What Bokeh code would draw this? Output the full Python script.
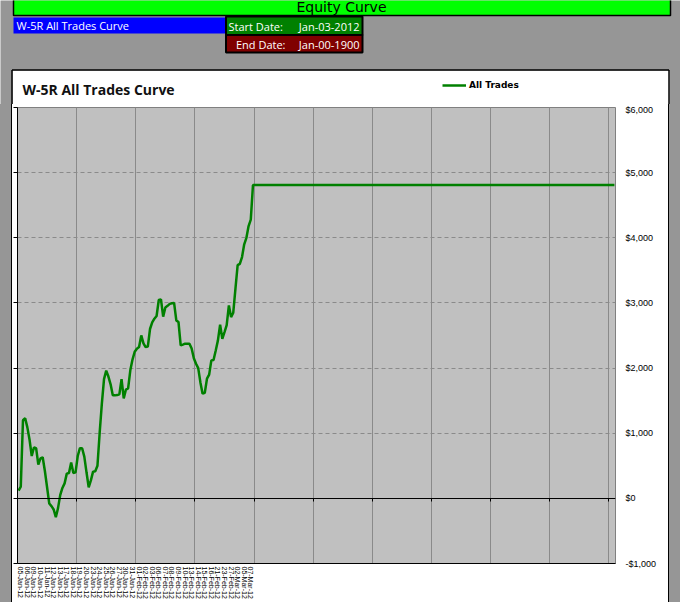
from bokeh.plotting import figure
from bokeh.models import (Range1d, LinearAxis, FixedTicker, Grid, Spacer, Legend, LegendItem)
from bokeh.layouts import column, row
from bokeh.core.properties import value
from bokeh.embed import file_html
from bokeh.resources import INLINE

# ---------------- data ----------------
equity = [120, 180, 1200, 1230, 1090, 900, 650, 780, 770, 520,
          615, 630, 420, 170, -80, -120, -170, -290, -150, 50,
          160, 230, 380, 390, 550, 390, 400, 650, 770, 770,
          640, 400, 170, 276, 410, 415, 500, 1000, 1450, 1830,
          1960, 1870, 1750, 1581, 1581, 1585, 1596, 1830, 1535, 1670,
          1688, 1965, 2130, 2250, 2298, 2323, 2502, 2380, 2323, 2330,
          2600, 2700, 2758, 2800, 3045, 3055, 2790, 2930, 2955, 2985,
          2995, 2998, 2732, 2707, 2349, 2360, 2374, 2374, 2374, 2300,
          2150, 2067, 2000, 1780, 1607, 1620, 1837, 1900, 2118, 2125,
          2270, 2425, 2666, 2450, 2553, 2660, 2962, 2783, 2850, 3220,
          3580, 3600, 3704, 3900, 4000, 4180, 4278, 4810]
n_categories = 273          # total rows in the category axis (flat after last trade)
label_every = 3             # Excel shows every 3rd category label
grid_every = 27             # vertical gridline interval (categories)

date_labels = ["05-Jan-12", "06-Jan-12", "09-Jan-12", "10-Jan-12", "11-Jan-12", "12-Jan-12",
               "13-Jan-12", "17-Jan-12", "18-Jan-12", "19-Jan-12", "20-Jan-12", "23-Jan-12",
               "24-Jan-12", "25-Jan-12", "26-Jan-12", "27-Jan-12", "30-Jan-12", "31-Jan-12",
               "01-Feb-12", "02-Feb-12", "03-Feb-12", "06-Feb-12", "07-Feb-12", "08-Feb-12",
               "09-Feb-12", "10-Feb-12", "13-Feb-12", "14-Feb-12", "15-Feb-12", "16-Feb-12",
               "21-Feb-12", "23-Feb-12", "27-Feb-12", "02-Mar-12", "05-Mar-12", "07-Mar-12"]
y_ticks = [-1000, 0, 1000, 2000, 3000, 4000, 5000, 6000]
y_tick_labels = ["-$1,000", "$0", "$1,000", "$2,000", "$3,000", "$4,000", "$5,000", "$6,000"]
series_name = "All Trades"
chart_title = "W-5R All Trades Curve"
sheet_title = "Equity Curve"
start_date = "Jan-03-2012"
end_date = "Jan-00-1900"

# ---------------- style ----------------
GRAY = "#969696"
PLOT_GRAY = "#C0C0C0"
GRID = "#8a8a8a"
LINE_GREEN = "#008000"

# ---------------- header (sheet cells, chart title, legend) ----------------
HEAD_H = 104
header = figure(width=680, height=HEAD_H, x_range=Range1d(0, 680), y_range=Range1d(HEAD_H, 0),
                x_axis_type=None, y_axis_type=None, toolbar_location=None,
                output_backend="svg", min_border=0, background_fill_color=GRAY,
                border_fill_color=GRAY, outline_line_color=None)

# white chart area (top part)
header.quad(left=[12], right=[669], top=[70], bottom=[HEAD_H], fill_color="white", line_color=None)
header.segment(x0=[11.5, 11.5, 668.5], y0=[69.5, 69.5, 69.5], x1=[668.5, 11.5, 668.5],
               y1=[69.5, HEAD_H, HEAD_H], line_color="black", line_width=1.5)

# green sheet banner
header.quad(left=[13], right=[670], top=[-3], bottom=[15], fill_color="#00FF00",
            line_color="black", line_width=1.5)
header.text(x=[341], y=[6], text=[sheet_title], text_align="center", text_baseline="middle",
            text_font=value("DejaVu Sans"), text_font_size="14px", text_color="black")

# blue chart name cell
header.quad(left=[13], right=[225.5], top=[17], bottom=[33], fill_color="#0000FF", line_color=None)
header.text(x=[16], y=[25], text=[chart_title], text_align="left", text_baseline="middle",
            text_font=value("Open Sans"), text_font_size="11px", text_color="white")

# start / end date cells
header.quad(left=[225.5, 225.5], right=[362, 362], top=[16, 34.5], bottom=[34.5, 52],
            fill_color=["#008000", "#800000"], line_color="black", line_width=2)
header.text(x=[228, 359], y=[25.5, 25.5], text=["Start Date:", start_date],
            text_align=["left", "right"], text_baseline="middle",
            text_font=value("Open Sans"), text_font_size="11px", text_color="white")
header.text(x=[285, 359], y=[43.5, 43.5], text=["End Date:", end_date],
            text_align="right", text_baseline="middle",
            text_font=value("Open Sans"), text_font_size="11px", text_color="white")

# chart title
header.text(x=[22], y=[89], text=[chart_title], text_align="left", text_baseline="middle",
            text_font=value("Open Sans"), text_font_style="bold", text_font_size="14px",
            text_color="#111111")

# legend (proxy line lies outside the visible header range)
legend_proxy = header.line(x=[-30, -20], y=[-30, -30], line_color=LINE_GREEN, line_width=2.5)
legend = Legend(items=[LegendItem(label=series_name, renderers=[legend_proxy])],
                location=(442, 14), padding=0, margin=0, spacing=0,
                border_line_color=None, background_fill_alpha=0,
                glyph_width=24, glyph_height=10, label_height=10, label_standoff=3,
                label_text_font="DejaVu Sans", label_text_font_style="bold",
                label_text_font_size="9px", label_text_color="black")
header.add_layout(legend)

# ---------------- main chart ----------------
MAIN_H = 602 - HEAD_H
p = figure(width=656, height=MAIN_H, x_range=Range1d(0, n_categories), y_range=Range1d(-1000, 6000),
           x_axis_type=None, y_axis_type=None, toolbar_location=None, output_backend="svg",
           min_border_left=5, min_border_right=53, min_border_top=3, min_border_bottom=39,
           background_fill_color=PLOT_GRAY, border_fill_color="white",
           outline_line_color="#808080")

vgrid_ticks = list(range(grid_every, n_categories, grid_every))
p.add_layout(Grid(dimension=0, ticker=FixedTicker(ticks=vgrid_ticks), grid_line_color=GRID))
p.add_layout(Grid(dimension=1, ticker=FixedTicker(ticks=[t for t in y_ticks if 0 < t < 6000]),
                  grid_line_color=GRID, grid_line_dash="4 3"))

x_vals = [i + 0.5 for i in range(len(equity))] + [n_categories - 0.5]
y_vals = equity + [equity[-1]]
p.line(x_vals, y_vals, line_color=LINE_GREEN, line_width=2.5)

# value axis line (left, black, ticks out, no labels)
left_ax = LinearAxis(ticker=FixedTicker(ticks=y_ticks),
                     major_label_overrides={t: "" for t in y_ticks},
                     major_tick_out=4, major_tick_in=0, major_label_standoff=0,
                     minor_tick_line_color=None, axis_line_color="black",
                     major_tick_line_color="black")
p.add_layout(left_ax, "left")

# value labels (right)
right_ax = LinearAxis(ticker=FixedTicker(ticks=y_ticks),
                      major_label_overrides=dict(zip(y_ticks, y_tick_labels)),
                      axis_line_color=None, major_tick_line_color=None, minor_tick_line_color=None,
                      major_tick_out=0, major_tick_in=0,
                      major_label_standoff=10, major_label_text_font="Liberation Sans",
                      major_label_text_font_size="9px", major_label_text_color="black")
p.add_layout(right_ax, "right")

# date labels at the bottom of the plot area
date_ticks = [1.5 + label_every * k for k in range(len(date_labels))]
date_ax = LinearAxis(ticker=FixedTicker(ticks=date_ticks),
                     major_label_overrides=dict(zip(date_ticks, date_labels)),
                     major_label_orientation="vertical", major_tick_line_color=None,
                     major_tick_out=0, major_tick_in=0,
                     minor_tick_line_color=None, axis_line_color="black",
                     major_label_standoff=3, major_label_text_font="Liberation Sans",
                     major_label_text_font_size="7px", major_label_text_color="black")
p.add_layout(date_ax, "below")

# category axis crossing at $0 (ticks pointing down)
zero_ax = LinearAxis(fixed_location=0, ticker=FixedTicker(ticks=vgrid_ticks),
                     major_label_overrides={t: "" for t in vgrid_ticks},
                     major_tick_out=0, major_tick_in=3, major_label_standoff=0,
                     minor_tick_line_color=None,
                     axis_line_color="black", major_tick_line_color="black")
p.add_layout(zero_ax, "above")

gl = Spacer(width=11, height=MAIN_H, styles={"background-color": GRAY})
bl = Spacer(width=1, height=MAIN_H, styles={"background-color": "black"})
br = Spacer(width=1, height=MAIN_H, styles={"background-color": "black"})
gr = Spacer(width=11, height=MAIN_H, styles={"background-color": GRAY})

layout = column(header, row(gl, bl, p, br, gr, spacing=0), spacing=0)

open("out.html", "w").write(file_html(layout, INLINE))
